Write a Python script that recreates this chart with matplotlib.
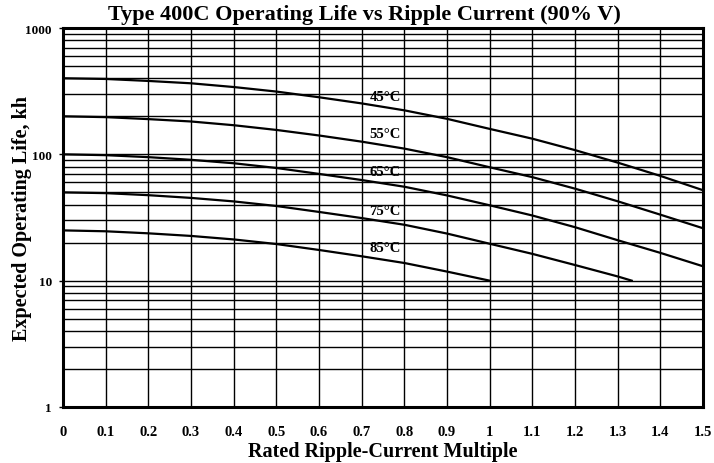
import matplotlib.pyplot as plt
import matplotlib.patheffects as pe
from matplotlib import font_manager
import numpy as np

# Type 400C operating life vs ripple current
ripple = [0, 0.1, 0.2, 0.3, 0.4, 0.5, 0.6, 0.7, 0.8, 0.9, 1.0, 1.1, 1.2, 1.3, 1.4, 1.5]
ripple_75 = [0, 0.1, 0.2, 0.3, 0.4, 0.5, 0.6, 0.7, 0.8, 0.9, 1.0, 1.1, 1.2, 1.3, 1.333]
ripple_85 = [0, 0.1, 0.2, 0.3, 0.4, 0.5, 0.6, 0.7, 0.8, 0.9, 1.0]

life_45 = [400, 395, 381, 365, 341, 314, 283, 253, 223, 191, 159, 133, 108, 86, 67.5, 52]
life_55 = [200, 197, 190, 182, 170, 156, 141, 126, 111, 95, 79, 66, 53.5, 42.5, 33.3, 26]
life_65 = [100, 98.5, 95, 90.5, 85, 78, 70, 62.6, 55.4, 47.3, 39.5, 32.8, 26.5, 20.9, 16.6, 13]
life_75 = [50, 49.3, 47.5, 45.2, 42.4, 39, 35, 31.3, 27.7, 23.6, 19.6, 16.3, 13.3, 10.8, 10]
life_85 = [25, 24.6, 23.7, 22.6, 21.2, 19.5, 17.5, 15.6, 13.8, 11.8, 10]

labels = ['45°C', '55°C', '65°C', '75°C', '85°C']
label_pos = [(0.755, 287), (0.755, 146), (0.755, 73), (0.755, 35.7), (0.755, 18.2)]

plt.rcParams['font.family'] = 'Liberation Serif'
plt.rcParams['font.weight'] = 'bold'

# if no bold face is installed, thicken the glyphs with a stroke
bold_file = font_manager.findfont(font_manager.FontProperties(family='Liberation Serif', weight='bold'))
if 'Bold' in bold_file:
    fx = []
else:
    fx = [pe.withStroke(linewidth=0.7, foreground='black')]

fig = plt.figure(figsize=(7.14, 4.64), dpi=100)
ax = fig.add_axes([63/714, 56/464, 640/714, 379/464])

ax.set_yscale('log')
ax.set_xlim(0, 1.5)
ax.set_ylim(1, 1000)

# grid: every 0.1 on x, every log minor step on y
for xv in np.arange(0.1, 1.5, 0.1):
    ax.axvline(xv, color='black', lw=1.0, zorder=1)
for dec in [1, 10, 100]:
    for m in range(2, 10):
        ax.axhline(dec*m, color='black', lw=1.0, zorder=1)
for yv in [10, 100]:
    ax.axhline(yv, color='black', lw=1.0, zorder=1)

ax.plot(ripple, life_45, color='black', lw=1.6, zorder=3)
ax.plot(ripple, life_55, color='black', lw=1.6, zorder=3)
ax.plot(ripple, life_65, color='black', lw=1.6, zorder=3)
ax.plot(ripple_75, life_75, color='black', lw=1.6, zorder=3)
ax.plot(ripple_85, life_85, color='black', lw=1.6, zorder=3)

for lab, (lx, ly) in zip(labels, label_pos):
    ax.text(lx, ly, lab, fontsize=10.5, fontweight='bold', ha='center', va='center',
            zorder=4, path_effects=fx)

ax.set_xticks(ripple)
ax.set_xticklabels(['0', '0.1', '0.2', '0.3', '0.4', '0.5', '0.6', '0.7', '0.8', '0.9',
                    '1', '1.1', '1.2', '1.3', '1.4', '1.5'])
ax.set_yticks([1, 10, 100, 1000])
ax.set_yticklabels(['1', '10', '100', '1000'])
ax.yaxis.set_minor_locator(plt.NullLocator())
ax.tick_params(axis='x', length=0, pad=13, labelsize=10.5)
ax.tick_params(axis='y', length=3, width=1, pad=5, labelsize=9.5)
for t in ax.get_xticklabels() + ax.get_yticklabels():
    t.set_path_effects(fx)

for s in ax.spines.values():
    s.set_linewidth(2.2)

fig.text(364/714, 1 - 15/464, 'Type 400C Operating Life vs Ripple Current (90% V)',
         fontsize=16, fontweight='bold', ha='center', va='center', path_effects=fx)
ax.set_xlabel('Rated Ripple-Current Multiple', fontsize=14.5, fontweight='bold',
              va='center', path_effects=fx)
ax.set_ylabel('Expected Operating Life, kh', fontsize=14.5, fontweight='bold',
              va='center', path_effects=fx)
ax.xaxis.set_label_coords(0.5, -0.116)
ax.yaxis.set_label_coords(-0.064, 0.5)

plt.savefig('out.png', dpi=100)
